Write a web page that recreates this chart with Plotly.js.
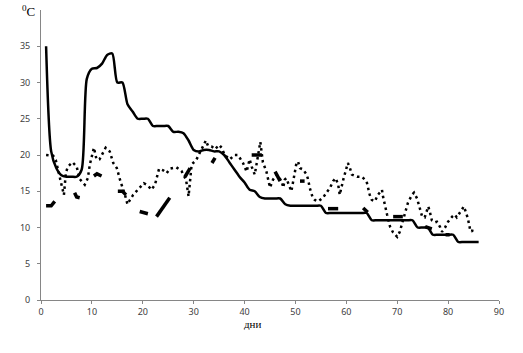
<!DOCTYPE html>
<html>
<head>
<meta charset="utf-8">
<script src="https://cdn.plot.ly/plotly-3.0.1.min.js"></script>
<style>html,body{margin:0;padding:0;background:#fff;}#chart{width:523px;height:353px;}</style>
</head>
<body>
<div id="chart"></div>
<script>
// Solid series: daily values
const solidDays = [];
for (let d = 1; d <= 86; d++) solidDays.push(d);
const solidTemps = [
  35, 20.5, 18.2, 17.2, 17, 17, 17, 18, 30.5, 31.9,
  32, 32.6, 33.8, 34, 30, 30, 27, 26, 25, 25,
  25, 24, 24, 24, 24, 23.2, 23.2, 23, 22, 20.7,
  20.5, 20.7, 20.7, 20.5, 20.5, 20, 19, 18, 17, 16.2,
  15.2, 15, 14.2, 14, 14, 14, 14, 13.2, 13, 13,
  13, 13, 13, 13, 13, 12, 12, 12, 12, 12,
  12, 12, 12, 12, 11, 11, 11, 11, 11, 11,
  11, 11, 11, 10, 10, 10, 9, 9, 9, 9,
  9, 8, 8, 8, 8, 8
];

// Dotted series (read along the path)
const dotDays = [
  1, 2.4, 2.9, 3.5, 4, 4.5, 4.9, 5.3, 6.2, 7,
  7.6, 8.6, 9.2, 9.6, 10.4, 10.9, 11.5, 12.7, 13.5, 14.2,
  14.9, 15.6, 16.5, 17, 17.4, 18.1, 19.4, 20.2, 21, 21.7,
  22.4, 23.2, 24, 24.7, 25.3, 26.6, 27.6, 28.5, 29, 29.6,
  30.5, 31.3, 31.9, 32.4, 32.8, 33.5, 34.2, 35, 35.5, 36.1,
  37.1, 38, 38.7, 39.7, 40.4, 41, 41.4, 42, 42.4, 43.1,
  43.6, 44.3, 45, 45.6, 46.3, 47.3, 47.6, 47.9, 48.2, 48.9,
  49.2, 49.9, 50.2, 50.5, 50.9, 51.5, 52.2, 52.5, 52.8, 53.4,
  53.8, 54.5, 55.4, 56.1, 56.8, 57.4, 57.9, 58.4, 58.7, 59.4,
  59.7, 60, 60.3, 60.7, 61.1, 62.1, 63.1, 64, 64.6, 65,
  65.6, 66.2, 67, 67.2, 67.6, 68, 68.6, 69.2, 70, 70.5,
  70.9, 72.1, 72.9, 73.3, 73.9, 74.5, 74.9, 75.4, 75.9, 76.1,
  76.4, 76.8, 77.4, 77.8, 78.4, 78.8, 79.4, 80, 80.8, 81.3,
  81.7, 82.1, 82.7, 83.1, 83.5, 83.9, 84.3, 84.7, 84.9
];
const dotTemps = [
  20, 19.9, 19.3, 17.5, 15.9, 14.5, 17.6, 18.4, 19, 18.4,
  16.7, 15.9, 16.8, 18.7, 21, 19.4, 19.4, 21, 20.5, 18.9,
  18.2, 16.4, 14.5, 13.2, 13.7, 14.5, 15.5, 16.1, 15.8, 15.2,
  15.9, 18.1, 17.9, 17.5, 18.1, 18.3, 17.8, 16.6, 14.3, 18.7,
  19.3, 20.5, 21.4, 22, 21.3, 21.2, 20.8, 21.4, 21, 20,
  19.4, 20, 20, 18.9, 17.7, 19.4, 18.4, 17.3, 18.9, 21.8,
  19, 17.7, 15.5, 16.6, 17.3, 16.4, 15.5, 16.6, 16.8, 15.7,
  15, 17.7, 18.9, 19.1, 18.2, 18, 17.3, 16.6, 15.5, 14.1,
  13.8, 13.6, 14.1, 14.8, 15.5, 16.4, 16.8, 15.9, 14.5, 16.6,
  17.5, 18.4, 18.9, 18.2, 17.3, 17, 17, 16.3, 14.5, 13.8,
  13.6, 14.5, 15.2, 14.3, 12.8, 11.8, 10.1, 9.3, 8.7, 9.4,
  10.4, 13.4, 14.5, 14.8, 14, 12.5, 11.5, 11.4, 12.5, 12.9,
  12.2, 11, 10.7, 10.8, 10.1, 9.4, 10, 10.8, 11.5, 11.8,
  11.4, 11.8, 12.5, 12.9, 12.1, 11.2, 9.8, 9.4, 10.1
];

// Long-dash series: visible dashes (null separates dashes)
const dashDays = [
  1, 2, 2.7, null, 6.6, 7, 7.6, null, 10.4, 11, 11.9, null,
  15.1, 16, 16.7, null, 19.4, 20.5, 21, null, 22.7, 25.3, null,
  28.3, 29.3, null, 33.6, 34.2, null, 41.4, 43.4, null, 46, 47, null,
  50.9, 51.8, null, 56.4, 58.4, null, 63.3, 64.2, null, 69.2, 71.1, null,
  75.5, 76.8, null, 79.5, 80.3
];
const dashTemps = [
  13, 13, 13.6, null, 14.8, 14.2, 14.1, null, 17.1, 17.4, 17.1, null,
  15, 15, 14.5, null, 12.2, 12, 11.9, null, 11.5, 14.1, null,
  17, 18.2, null, 18.9, 19.6, null, 20, 20, null, 17.7, 16.4, null,
  16.4, 16.4, null, 12.6, 12.6, null, 12.7, 12.1, null, 11.5, 11.5, null,
  10.1, 9.8, null, 9, 9
];

const xTicks = [0, 10, 20, 30, 40, 50, 60, 70, 80, 90];
const yTicks = [0, 5, 10, 15, 20, 25, 30, 35];
const xTitle = 'дни';
const yTitle = '<sup>0</sup>C';

const traces = [
  {x: dotDays, y: dotTemps, mode: 'lines', line: {color: '#000', width: 2.5, dash: '2.5px,3.5px'}, hoverinfo: 'skip'},
  {x: dashDays, y: dashTemps, mode: 'lines', connectgaps: false, line: {color: '#000', width: 3.5}, hoverinfo: 'skip'},
  {x: solidDays, y: solidTemps, mode: 'lines', line: {color: '#000', width: 2.5, shape: 'spline', smoothing: 0.7}, hoverinfo: 'skip'}
];

const axisFont = {family: 'Noto Sans, DejaVu Sans, sans-serif', size: 9, color: '#404040'};
const layout = {
  width: 523, height: 353,
  margin: {l: 41, r: 24, t: 10, b: 53},
  paper_bgcolor: '#fff', plot_bgcolor: '#fff',
  showlegend: false,
  xaxis: {
    range: [0, 90], tickvals: xTicks, ticktext: xTicks.map(String),
    showgrid: false, zeroline: false, showline: true, linecolor: '#868686', linewidth: 1,
    ticks: 'outside', ticklen: 3, tickcolor: '#868686', tickfont: axisFont
  },
  yaxis: {
    range: [0, 40], tickvals: yTicks, ticktext: yTicks.map(String),
    showgrid: false, zeroline: false, showline: true, linecolor: '#868686', linewidth: 1,
    ticks: 'outside', ticklen: 3, tickcolor: '#868686', tickfont: axisFont, ticklabelstandoff: 5
  },
  annotations: [
    {text: xTitle, xref: 'paper', yref: 'paper', x: 0.461, y: -0.083, xanchor: 'center', yanchor: 'middle',
     showarrow: false, font: {family: 'Liberation Serif, serif', size: 11, color: '#000'}},
    {text: yTitle, xref: 'paper', yref: 'paper', x: -0.046, y: 0.995, xanchor: 'left', yanchor: 'middle',
     showarrow: false, font: {family: 'Liberation Serif, serif', size: 13, color: '#000'}}
  ]
};

Plotly.newPlot('chart', traces, layout, {staticPlot: true, displayModeBar: false});
</script>
</body>
</html>
